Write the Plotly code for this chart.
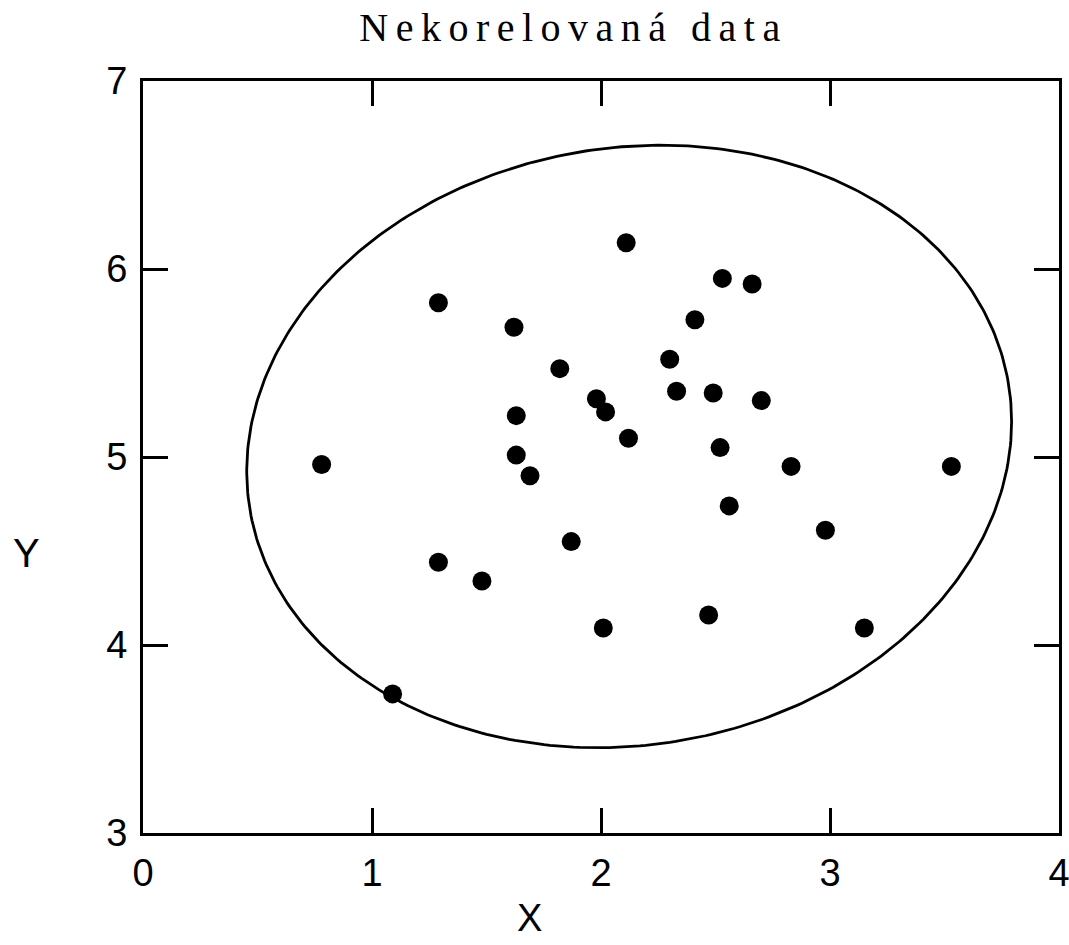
import numpy as np
import plotly.graph_objects as go

# Scatter data
x_vals = [2.11, 2.53, 2.66, 1.29, 1.62, 2.41, 2.30, 1.82, 1.98, 2.02,
          2.33, 2.49, 2.70, 1.63, 2.12, 2.52, 1.63, 0.78, 1.69, 2.83,
          3.53, 2.56, 2.98, 1.87, 1.29, 1.48, 2.01, 2.47, 3.15, 1.09]
y_vals = [6.14, 5.95, 5.92, 5.82, 5.69, 5.73, 5.52, 5.47, 5.31, 5.24,
          5.35, 5.34, 5.30, 5.22, 5.10, 5.05, 5.01, 4.96, 4.90, 4.95,
          4.95, 4.74, 4.61, 4.55, 4.44, 4.34, 4.09, 4.16, 4.09, 3.74]

# Ellipse: centre and shape matrix (x half-extent^2, cross term, y half-extent^2)
ellipse_center = [2.123, 5.056]
ellipse_shape = [[2.789, 0.22],
                 [0.22, 2.568]]

x_ticks = [0, 1, 2, 3, 4]
y_ticks = [3, 4, 5, 6, 7]

title_text = "Nekorelovaná data"
x_title = "X"
y_title = "Y"

# Outline of the ellipse
t = np.linspace(0, 2 * np.pi, 400)
L = np.linalg.cholesky(np.array(ellipse_shape))
ring = L @ np.vstack([np.cos(t), np.sin(t)])
ex = ring[0] + ellipse_center[0]
ey = ring[1] + ellipse_center[1]

fig = go.Figure()
fig.add_trace(go.Scatter(x=ex, y=ey, mode="lines",
                         line=dict(color="black", width=2.8),
                         hoverinfo="skip", showlegend=False))
fig.add_trace(go.Scatter(x=x_vals, y=y_vals, mode="markers",
                         marker=dict(color="black", size=19, symbol="circle",
                                     line=dict(width=0)),
                         showlegend=False))

axis_common = dict(
    showgrid=False, zeroline=False, automargin=False,
    showline=True, linecolor="black", linewidth=3, mirror="ticks",
    ticks="inside", ticklen=25, tickwidth=3, tickcolor="black",
    ticklabeloverflow="allow",
    tickfont=dict(family="Liberation Sans, Arial, sans-serif", size=38, color="black"),
)

fig.update_xaxes(range=[0, 4], tickvals=x_ticks, ticktext=[str(v) for v in x_ticks],
                 ticklabelstandoff=4, **axis_common)
fig.update_yaxes(range=[3, 7], tickvals=y_ticks, ticktext=[str(v) for v in y_ticks],
                 ticklabelstandoff=5, **axis_common)

fig.add_annotation(text=title_text, xref="paper", yref="paper",
                   x=0.4697, y=1.0718, xanchor="center", yanchor="middle",
                   showarrow=False,
                   font=dict(family="Liberation Serif, Times New Roman, serif",
                             size=40, color="black"))
fig.add_annotation(text=x_title, xref="paper", yref="paper",
                   x=0.4214, y=-0.113, xanchor="center", yanchor="middle",
                   showarrow=False,
                   font=dict(family="Liberation Sans, Arial, sans-serif", size=38, color="black"))
fig.add_annotation(text=y_title, xref="paper", yref="paper",
                   x=-0.1277, y=0.372, xanchor="center", yanchor="middle",
                   showarrow=False,
                   font=dict(family="Liberation Sans, Arial, sans-serif", size=40, color="black"))

fig.update_layout(
    width=1069, height=945,
    margin=dict(l=143, r=10, t=81, b=112),
    paper_bgcolor="white", plot_bgcolor="white",
    showlegend=False,
)

# Spaced-out lettering for the heading
spacing_js = """
document.querySelectorAll('text.annotation-text').forEach(function (el) {
  if (el.textContent.indexOf('Nekorelovan') === 0) {
    el.style.letterSpacing = '7.5px';
  }
});
"""

fig.write_html("out.html", post_script=spacing_js)
